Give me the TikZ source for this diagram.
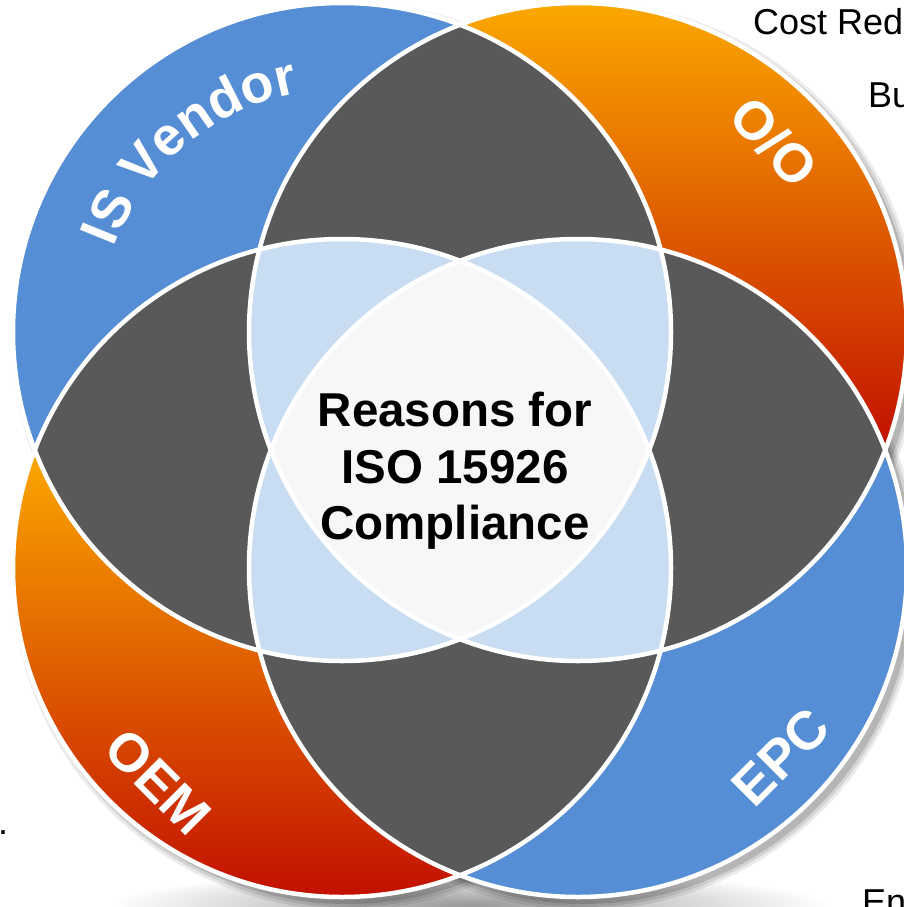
\documentclass[tikz,border=0pt]{standalone}
\usepackage{fontspec}
\setmainfont{Liberation Sans}
\usetikzlibrary{decorations.text,calc}
\definecolor{isblue}{RGB}{85,142,213}
\definecolor{ortop}{RGB}{251,168,0}
\definecolor{ormid}{RGB}{242,138,0}
\definecolor{orbot}{RGB}{194,16,0}
\definecolor{darkg}{RGB}{89,89,89}
\definecolor{lblue}{RGB}{200,220,242}
\definecolor{ctr}{RGB}{247,247,247}
\begin{document}
\begin{tikzpicture}[x=1pt,y=-1pt,
  lbl/.style={text=white,font=\bfseries\fontsize{54}{54}\selectfont,inner sep=0},
  side/.style={text=black,font=\fontsize{36}{36}\selectfont,inner sep=0,anchor=base west},
  ring/.style={draw=white,line width=4.5pt},
  orshade/.style={top color=ortop,middle color=ormid,bottom color=orbot}]
\def\R{329pt}
\clip (0,0) rectangle (904,907);
\fill[white] (0,0) rectangle (904,907);
\coordinate (cIS) at (342,332);
\coordinate (cOO) at (578,332);
\coordinate (cOEM) at (342,568);
\coordinate (cEPC) at (578,568);
% floor shadow
\shade[inner color=black!40, outer color=white] (470,905) ellipse[x radius=360pt, y radius=34pt];
% drop shadows
\foreach \c in {cIS,cOO,cOEM,cEPC}{
  \foreach \rr/\op in {336/0.08,333/0.10,330/0.14}{
    \fill[black,opacity=\op] ($(\c)+(6,6)$) circle[radius=\rr pt];
  }
}
% base fills
\fill[isblue] (cIS) circle[radius=\R];
\fill[isblue] (cEPC) circle[radius=\R];
\begin{scope}
  \clip (cOO) circle[radius=\R];
  \shade[orshade] (240,3) rectangle (910,450);
  \fill[orbot] (240,450) rectangle (910,665);
\end{scope}
\begin{scope}
  \clip (cOEM) circle[radius=\R];
  \fill[ortop] (0,230) rectangle (680,450);
  \shade[orshade] (0,450) rectangle (680,898);
\end{scope}
% pairwise overlaps
\foreach \a/\b in {cIS/cOO,cOO/cEPC,cEPC/cOEM,cOEM/cIS}{
  \begin{scope}
    \clip (\a) circle[radius=\R];
    \fill[darkg] (\b) circle[radius=\R];
  \end{scope}
}
% triple overlaps
\foreach \a/\b/\cc in {cIS/cOO/cEPC,cIS/cOO/cOEM,cIS/cOEM/cEPC,cOO/cOEM/cEPC}{
  \begin{scope}
    \clip (\a) circle[radius=\R];
    \clip (\b) circle[radius=\R];
    \fill[lblue] (\cc) circle[radius=\R];
  \end{scope}
}
% centre
\begin{scope}
  \clip (cIS) circle[radius=\R];
  \clip (cOO) circle[radius=\R];
  \clip (cOEM) circle[radius=\R];
  \fill[ctr] (cEPC) circle[radius=\R];
\end{scope}
% outlines
\foreach \c in {cIS,cOO,cOEM,cEPC}{
  \draw[ring] (\c) circle[radius=\R];
}
% labels
\path[decorate,decoration={text along path,text align=center,
  text={|\bfseries\fontsize{54}{54}\selectfont\color{white}|IS Vendor}}]
  ($(cIS)+(160:243pt)$) arc[start angle=160,end angle=100,radius=243pt];
\node[lbl,rotate=-47] (oo) at (774,142) {O/O};
\node[lbl,rotate=-45] (oem) at (158,782) {OEM};
\node[lbl,rotate=45] (epc) at (781,757) {EPC};
\node[font=\bfseries\fontsize{47.5}{56.5}\selectfont,align=center,inner sep=0] (title) at (455,471) {Reasons for\\ISO 15926\\Compliance};
% side texts (cut by the frame)
\node[side] (cost) at (753,35) {Cost Red};
\node[side] (bu) at (868,107) {Bu};
\node[side] (en) at (862,914) {En};
\node[side] (dot) at (-2,834) {.};
\end{tikzpicture}
\end{document}
